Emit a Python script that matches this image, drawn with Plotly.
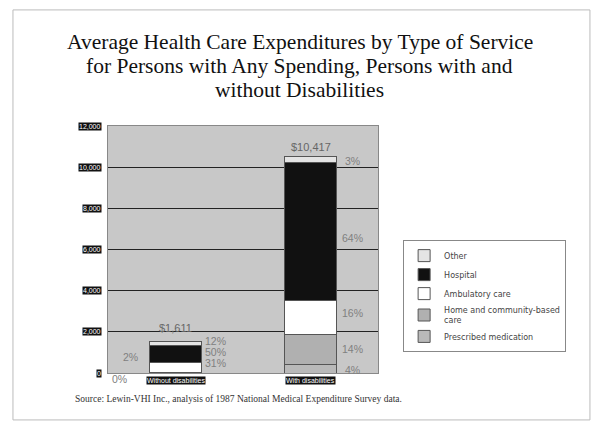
import plotly.graph_objects as go

categories = ["Without disabilities", "With disabilities"]
series_names = ["Prescribed medication", "Home and community-based<br>care",
                "Ambulatory care", "Hospital", "Other"]
# dollar values per series (bottom to top of stack)
prescribed = [32, 417]
home_care = [0, 1458]
ambulatory = [500, 1667]
hospital = [806, 6667]
other = [193, 313]
totals = [1611, 10417]
total_labels = ["$1,611", "$10,417"]

pct_without = [(1550, "12%"), (1020, "50%"), (485, "31%")]
pct_without_left = [(775, "2%")]
pct_with = [(10300, "3%"), (6550, "64%"), (2900, "16%"), (1150, "14%"), (150, "4%")]

y_ticks = [0, 2000, 4000, 6000, 8000, 10000, 12000]
y_tick_labels = ["0", "2,000", "4,000", "6,000", "8,000", "10,000", "12,000"]

title_lines = ["Average Health Care Expenditures by Type of Service",
               "for Persons with Any Spending, Persons with and",
               "without Disabilities"]

series_values = [prescribed, home_care, ambulatory, hospital, other]
colors = ["#b9b9b9", "#b0b0b0", "#ffffff", "#111111", "#e4e4e4"]

fig = go.Figure()
for name, vals, col in zip(series_names, series_values, colors):
    fig.add_trace(go.Bar(
        x=categories, y=vals, name=name,
        marker=dict(color=col, line=dict(color="#555555", width=1)),
        width=0.39,
    ))

ann = []
pfont = dict(size=10.5, color="#808080", family="Liberation Sans")
for yv, t in pct_without:
    ann.append(dict(x=categories[0], y=yv, text=t, xref="x", yref="y",
                    showarrow=False, xshift=40, font=pfont))
for yv, t in pct_without_left:
    ann.append(dict(x=categories[0], y=yv, text=t, xref="x", yref="y",
                    showarrow=False, xshift=-45, font=pfont))
ann.append(dict(x=categories[0], y=0, text="0%", xref="x", yref="y",
                showarrow=False, xshift=-56, yshift=-6, font=pfont))
for yv, t in pct_with:
    ann.append(dict(x=categories[1], y=yv, text=t, xref="x", yref="y",
                    showarrow=False, xshift=42, font=pfont))
for c, tv, tl in zip(categories, totals, total_labels):
    ann.append(dict(x=c, y=tv, text=tl, xref="x", yref="y", yanchor="bottom",
                    showarrow=False, yshift=4,
                    font=dict(size=11, color="#666666", family="Liberation Sans")))
for c in categories:
    ann.append(dict(x=c, y=0, text=c, xref="x", yref="y", yanchor="top",
                    showarrow=False, yshift=-3, bgcolor="#111111", borderpad=0,
                    font=dict(size=7, color="white", family="Liberation Sans")))
for tv, tl in zip(y_ticks, y_tick_labels):
    ann.append(dict(x=-0.022, y=tv, text=tl, xref="paper", yref="y", xanchor="right",
                    showarrow=False, bgcolor="#111111", borderpad=0,
                    font=dict(size=7, color="white", family="Liberation Sans")))
for line, yp in zip(title_lines, [1.340, 1.243, 1.146]):
    ann.append(dict(x=0.711, y=yp, xref="paper", yref="paper", text=line,
                    showarrow=False, xanchor="center", yanchor="middle",
                    font=dict(family="Liberation Serif", size=21.5, color="#111111")))
ann.append(dict(x=-0.13, y=-0.135, xref="paper", yref="paper", xanchor="left",
                showarrow=False,
                text="Source: Lewin-VHI Inc., analysis of 1987 National Medical Expenditure Survey data.",
                font=dict(size=9.5, color="#333333", family="Liberation Serif")))

fig.update_layout(
    width=604, height=429,
    margin=dict(l=100, r=234, t=118, b=64),
    paper_bgcolor="white", plot_bgcolor="#c8c8c8",
    barmode="stack", bargap=0.61,
    showlegend=True,
    legend=dict(x=1.093, y=0.538, xanchor="left", yanchor="top",
                bgcolor="white", bordercolor="#888888", borderwidth=1,
                traceorder="reversed", itemwidth=30,
                font=dict(size=8, color="#444444", family="DejaVu Sans")),
    annotations=ann,
    shapes=[dict(type="rect", xref="paper", yref="paper",
                 x0=-0.352, x1=1.785, y0=-0.19, y1=1.47,
                 line=dict(color="#bbbbbb", width=1))],
)
fig.update_xaxes(showticklabels=False, showline=True, linecolor="#888888", mirror=True,
                 ticks="")
fig.update_yaxes(range=[0, 12000], tickvals=y_ticks, showticklabels=False,
                 showgrid=True, gridcolor="#222222", gridwidth=1,
                 showline=True, linecolor="#888888", mirror=True, zeroline=False)

fig.write_html("out.html")
